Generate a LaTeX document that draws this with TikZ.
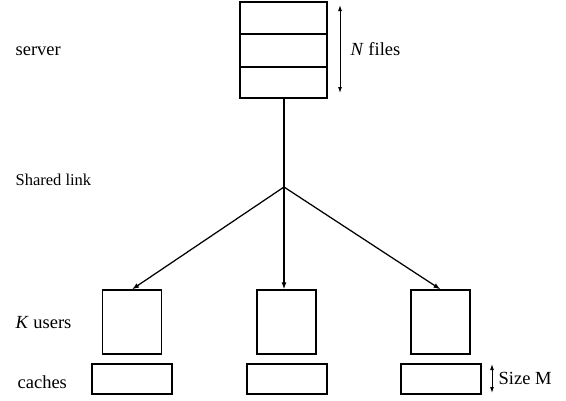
\documentclass[tikz,border=0pt]{standalone}
\usepackage{fontspec}
\setmainfont{Liberation Serif}
\usetikzlibrary{arrows.meta}
\begin{document}
\begin{tikzpicture}[x=1pt,y=-1pt,
  line width=1.25pt,
  tip/.style={-{Latex[length=7pt,width=5pt]}},
  dtip/.style={{Latex[length=6pt,width=4pt]}-{Latex[length=6pt,width=4pt]}, line width=1pt},
  lbl/.style={anchor=base west, inner sep=0pt, font=\fontsize{18.5}{20}\selectfont},
  userbox/.style={draw, minimum width=59pt, minimum height=64pt, inner sep=0pt},
  cachebox/.style={draw, minimum width=80pt, minimum height=30pt, inner sep=0pt}]
\useasboundingbox (0,0) rectangle (566,400);

% server with its stack of files
\node[draw, minimum width=87pt, minimum height=96pt, inner sep=0pt] (server) at (283.5,50) {};
\draw (server.west |- 0,34) -- (server.east |- 0,34);
\draw (server.west |- 0,67) -- (server.east |- 0,67);
\coordinate (ntop) at (340,5);
\coordinate (nbot) at (340,93);
\draw[dtip] (ntop) -- (nbot);
\node[lbl] (nfiles) at (350,55) {\textit{N} files};

% shared link
\coordinate (hub) at (284,187);
\draw (server.south -| hub) -- (hub);

% users and their caches
\node[userbox] (u1) at (132,322) {};
\node[userbox] (u2) at (286.5,322) {};
\node[userbox] (u3) at (440.5,322) {};
\node[cachebox] (c1) at (132,379) {};
\node[cachebox] (c2) at (287,379) {};
\node[cachebox] (c3) at (441,379) {};

\draw[tip] (hub) -- (u1.north);
\draw[tip] (hub) -- (u2.north -| hub);
\draw[tip] (hub) -- (u3.north);

% cache size marker
\coordinate (mtop) at (492,364);
\coordinate (mbot) at (492,393);
\draw[dtip] (mtop) -- (mbot);
\node[lbl] (sizem) at (498,384) {Size M};

% row labels
\node[lbl] (lserver) at (15,55) {server};
\node[lbl, font=\fontsize{16.5}{18}\selectfont] (llink) at (15,185) {Shared link};
\node[lbl] (lusers) at (15,328) {\textit{K} users};
\node[lbl] (lcaches) at (17,388) {caches};
\end{tikzpicture}
\end{document}
